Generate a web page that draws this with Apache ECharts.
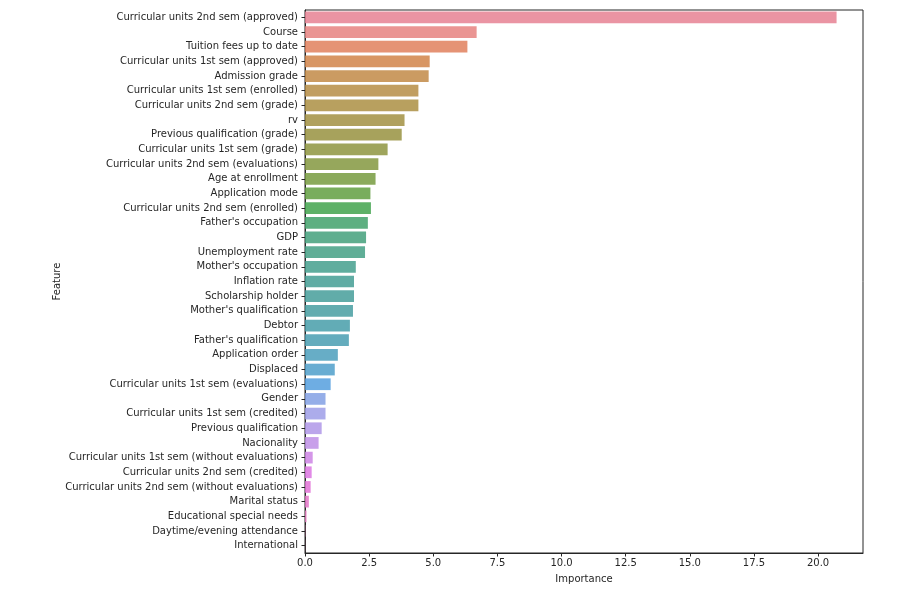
<!doctype html>
<html lang="en">
<head>
<meta charset="utf-8" />
<title>Feature importance</title>
<script src="https://cdn.jsdelivr.net/npm/echarts@6/dist/echarts.min.js"></script>
<style>
    html, body { margin: 0; padding: 0; background: #fff; }
    #chart { width: 912px; height: 592px; }
</style>
</head>
<body>
<div id="chart"></div>
<script>
    // data, top to bottom
    var features = [
        'Curricular units 2nd sem (approved)', 'Course', 'Tuition fees up to date',
        'Curricular units 1st sem (approved)', 'Admission grade',
        'Curricular units 1st sem (enrolled)', 'Curricular units 2nd sem (grade)', 'rv',
        'Previous qualification (grade)', 'Curricular units 1st sem (grade)',
        'Curricular units 2nd sem (evaluations)', 'Age at enrollment', 'Application mode',
        'Curricular units 2nd sem (enrolled)', "Father's occupation", 'GDP',
        'Unemployment rate', "Mother's occupation", 'Inflation rate', 'Scholarship holder',
        "Mother's qualification", 'Debtor', "Father's qualification", 'Application order',
        'Displaced', 'Curricular units 1st sem (evaluations)', 'Gender',
        'Curricular units 1st sem (credited)', 'Previous qualification', 'Nacionality',
        'Curricular units 1st sem (without evaluations)', 'Curricular units 2nd sem (credited)',
        'Curricular units 2nd sem (without evaluations)', 'Marital status',
        'Educational special needs', 'Daytime/evening attendance', 'International'
    ];
    var importance = [
        20.72, 6.69, 6.33, 4.86, 4.82, 4.42, 4.42, 3.88, 3.77, 3.22,
        2.86, 2.75, 2.55, 2.57, 2.45, 2.38, 2.34, 1.98, 1.91, 1.91,
        1.87, 1.75, 1.71, 1.28, 1.16, 1.00, 0.80, 0.80, 0.65, 0.53,
        0.30, 0.26, 0.22, 0.15, 0.06, 0.012, 0.006
    ];
    var xTicks = [0, 2.5, 5, 7.5, 10, 12.5, 15, 17.5, 20];

    /* seaborn style palette: husl hues, then desaturated to 0.75 */
    var M = [[3.2406, -1.5372, -0.4986], [-0.9689, 1.8758, 0.0415], [0.0557, -0.2040, 1.0570]];
    var KAPPA = 903.2962962, EPS = 0.0088564516, REF_U = 0.19783000664283, REF_V = 0.46831999493879;

    function maxChroma(L, H) {
        var hrad = H / 360 * 2 * Math.PI;
        var sub1 = Math.pow(L + 16, 3) / 1560896;
        var sub2 = sub1 > EPS ? sub1 : L / KAPPA;
        var best = Infinity;
        for (var i = 0; i < 3; i++) {
            var m1 = M[i][0], m2 = M[i][1], m3 = M[i][2];
            for (var t = 0; t < 2; t++) {
                var top1 = (284517 * m1 - 94839 * m3) * sub2;
                var top2 = (838422 * m3 + 769860 * m2 + 731718 * m1) * L * sub2 - 769860 * t * L;
                var bottom = (632260 * m3 - 126452 * m2) * sub2 + 126452 * t;
                var slope = top1 / bottom, icpt = top2 / bottom;
                var len = icpt / (Math.sin(hrad) - slope * Math.cos(hrad));
                if (len >= 0 && len < best) best = len;
            }
        }
        return best;
    }

    function huslToRgb(H, S, L) {
        var C = maxChroma(L, H) / 100 * S;
        var hrad = H / 360 * 2 * Math.PI;
        var U = C * Math.cos(hrad), V = C * Math.sin(hrad);
        var Y = L <= 8 ? L / KAPPA : Math.pow((L + 16) / 116, 3);
        var vu = U / (13 * L) + REF_U, vv = V / (13 * L) + REF_V;
        var X = 0 - (9 * Y * vu) / ((vu - 4) * vv - vu * vv);
        var Z = (9 * Y - 15 * vv * Y - vv * X) / (3 * vv);
        return M.map(function (r) {
            var c = r[0] * X + r[1] * Y + r[2] * Z;
            c = c <= 0.0031308 ? 12.92 * c : 1.055 * Math.pow(c, 1 / 2.4) - 0.055;
            return Math.min(1, Math.max(0, c));
        });
    }

    function rgbToHls(r, g, b) {
        var mx = Math.max(r, g, b), mn = Math.min(r, g, b);
        var l = (mx + mn) / 2;
        if (mx === mn) return [0, l, 0];
        var d = mx - mn;
        var s = l <= 0.5 ? d / (mx + mn) : d / (2 - mx - mn);
        var rc = (mx - r) / d, gc = (mx - g) / d, bc = (mx - b) / d;
        var h;
        if (r === mx) h = bc - gc;
        else if (g === mx) h = 2 + rc - bc;
        else h = 4 + gc - rc;
        h = ((h / 6) % 1 + 1) % 1;
        return [h, l, s];
    }

    function hlsToRgb(h, l, s) {
        if (s === 0) return [l, l, l];
        var m2 = l <= 0.5 ? l * (1 + s) : l + s - l * s;
        var m1 = 2 * l - m2;
        function v(hue) {
            hue = ((hue % 1) + 1) % 1;
            if (hue < 1 / 6) return m1 + (m2 - m1) * hue * 6;
            if (hue < 0.5) return m2;
            if (hue < 2 / 3) return m1 + (m2 - m1) * (2 / 3 - hue) * 6;
            return m1;
        }
        return [v(h + 1 / 3), v(h), v(h - 1 / 3)];
    }

    function palette(n) {
        var out = [];
        for (var i = 0; i < n; i++) {
            var hue = ((i / n) + 0.01) % 1 * 359;
            var rgb = huslToRgb(hue, 0.9 * 99, 0.65 * 99);
            var hls = rgbToHls(rgb[0], rgb[1], rgb[2]);
            var d = hlsToRgb(hls[0], hls[1], hls[2] * 0.75);
            out.push('rgb(' + d.map(function (c) { return Math.round(c * 255); }).join(',') + ')');
        }
        return out;
    }

    var colors = palette(features.length);
    var barData = importance.map(function (v, i) {
        return { value: v, itemStyle: { color: colors[i] } };
    });

    var font = 'DejaVu Sans';
    var ink = '#262626';

    var chart = echarts.init(document.getElementById('chart'));
    chart.setOption({
        animation: false,
        textStyle: { fontFamily: font },
        grid: {
            left: 305, right: 49, top: 10, bottom: 39,
            show: true, borderColor: ink, borderWidth: 1, backgroundColor: '#fff'
        },
        xAxis: {
            type: 'value',
            min: 0, max: 21.75, interval: 2.5,
            name: 'Importance', nameLocation: 'middle', nameGap: 21,
            nameMoveOverlap: false,
            nameTextStyle: { fontFamily: font, fontSize: 10, color: ink },
            splitLine: { show: false },
            axisLine: { show: true, lineStyle: { color: ink, width: 1 } },
            axisTick: { show: true, length: 3.5, lineStyle: { color: ink } },
            axisLabel: {
                fontFamily: font, fontSize: 10, color: ink, margin: 5,
                showMaxLabel: false,
                formatter: function (v) {
                    return xTicks.indexOf(v) >= 0 ? v.toFixed(1) : '';
                }
            }
        },
        yAxis: {
            type: 'category',
            data: features,
            inverse: true,
            name: 'Feature', nameLocation: 'middle', nameGap: 243, nameRotate: 90,
            nameMoveOverlap: false,
            nameTextStyle: { fontFamily: font, fontSize: 10, color: ink },
            axisLine: { show: true, lineStyle: { color: ink, width: 1 } },
            axisTick: { show: true, alignWithLabel: true, length: 3.5, lineStyle: { color: ink } },
            axisLabel: { fontFamily: font, fontSize: 10, color: ink, margin: 7, interval: 0 }
        },
        series: [{
            type: 'bar',
            data: barData,
            barCategoryGap: '20%',
            itemStyle: { opacity: 0.85 },
            silent: true
        }]
    });
</script>
</body>
</html>
